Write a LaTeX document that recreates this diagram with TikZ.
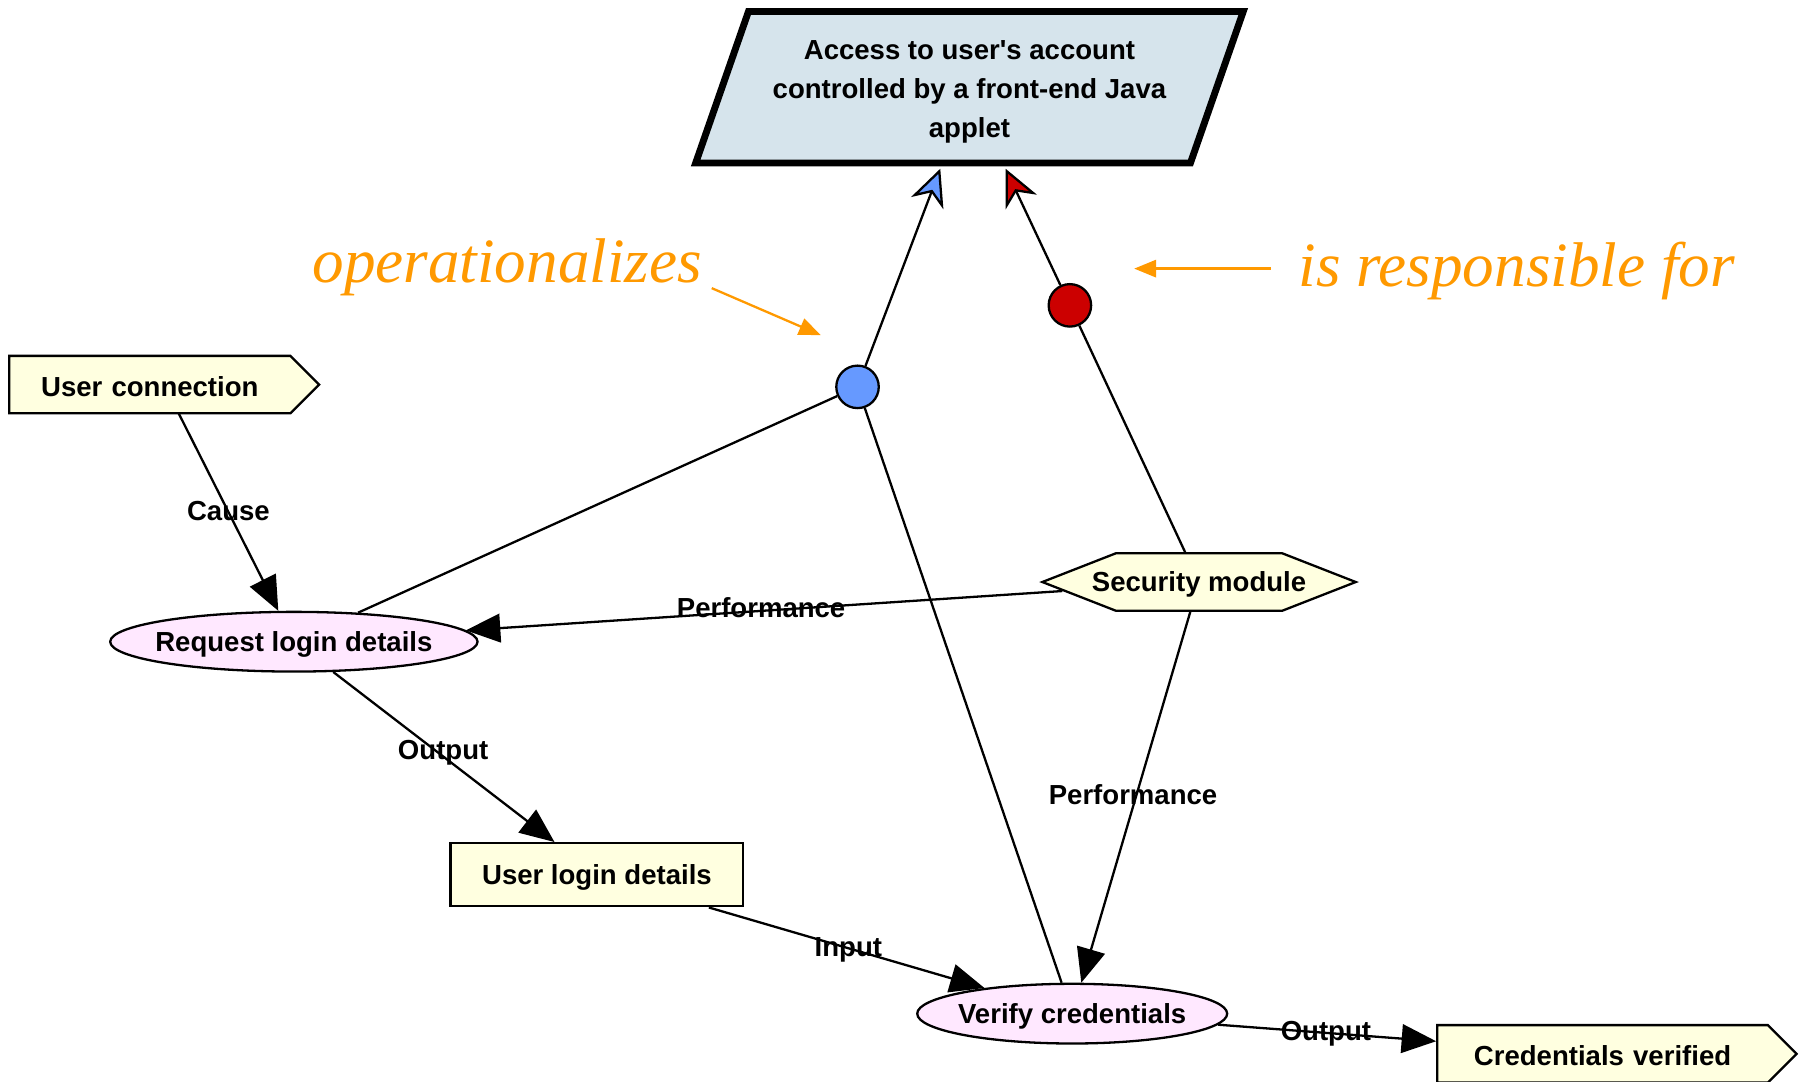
\documentclass[tikz,border=0pt]{standalone}
\usepackage{fontspec}
\setmainfont{Liberation Sans}
\newfontfamily\annofont{Liberation Serif Italic}
\usetikzlibrary{shapes.geometric,shapes.symbols,arrows.meta}
\pgfdeclarelayer{bg}
\pgfsetlayers{bg,main}
\newcommand\lowertext[1]{\raisebox{-1pt}[\dimexpr\height+1pt\relax][\dimexpr\depth-1pt\relax]{#1}}
\definecolor{goalfill}{HTML}{D6E4EC}
\definecolor{entfill}{HTML}{FFFFE0}
\definecolor{procfill}{HTML}{FFE8FF}
\definecolor{opblue}{HTML}{6699FF}
\definecolor{resred}{HTML}{CC0000}
\definecolor{annorange}{HTML}{FF9900}
\tikzset{
  every node/.style={inner sep=0pt},
  goalbox/.style={rectangle, minimum width=477pt, minimum height=132pt, align=center, outer sep=1pt},
  goalborder/.style={line width=6pt, line join=miter},
  entity/.style={rectangle, draw, line width=2pt, fill=entfill, minimum width=255pt, minimum height=55pt},
  flag/.style={signal, signal to=east, signal pointer angle=90, draw, line width=2pt, fill=entfill, minimum height=50pt},
  hexa/.style={signal, signal to=west and east, signal pointer angle=42.7, draw, line width=2pt, fill=entfill, minimum height=50pt},
  proc/.style={ellipse, draw, line width=2pt, fill=procfill, minimum height=52pt},
  dot/.style={circle, draw, line width=2pt, minimum size=37pt},
  link/.style={line width=2pt},
  flow/.style={line width=2pt, -{Triangle[length=30pt,width=25pt]}},
  oparrow/.style={line width=2pt, -{Stealth[length=32pt,width=30pt,inset=10pt,fill=opblue]}},
  resarrow/.style={line width=2pt, -{Stealth[length=32pt,width=30pt,inset=10pt,fill=resred]}},
  lab/.style={anchor=base},
  annotext/.style={text=annorange, font=\annofont\fontsize{55}{60}\selectfont, anchor=base west},
  annoarrow/.style={draw=annorange, line width=2pt, -{Triangle[length=19pt,width=15pt,fill=annorange]}}
}
\begin{document}
\begin{tikzpicture}[x=1pt,y=-1pt,font=\bfseries\fontsize{24}{34}\selectfont]
\useasboundingbox (0,0) rectangle (1568,942);
% goal
\fill[goalfill] (652,10) -- (1083,10) -- (1037,142) -- (606,142) -- cycle;
\node[goalbox] (goal) at (844.5,80) {Access to user\textquotesingle s account\\controlled by a front-end Java\\applet};
\draw[goalborder] (652,10) -- (1083,10) -- (1037,142) -- (606,142) -- cycle;
% nodes
\node[flag, minimum width=270pt, text width=220pt, align=center] (uc) at (130.5,335) {\lowertext{User connection}};
\node[proc, minimum width=320pt] (req) at (256,559) {\makebox[0pt]{\lowertext{Request login details}}};
\node[hexa, minimum width=273pt] (sec) at (1044.5,507) {\makebox[0pt]{\lowertext{Security module}}};
\node[entity] (uld) at (520,762) {\lowertext{User login details}};
\node[proc, minimum width=270pt] (ver) at (934,883) {\makebox[0pt]{\lowertext{Verify credentials}}};
\node[flag, minimum width=313pt, text width=262pt, align=center] (cv) at (1396,918) {\lowertext{Credentials verified}};
\node[dot, fill=opblue] (op) at (747,337) {};
\node[dot, fill=resred] (rs) at (932,266) {};
\coordinate (ucmid) at (143,335);
% links
\draw[oparrow] (op) -- (goal);
\draw[resarrow] (rs) -- (goal);
\draw[link] (op) -- (req);
\draw[link] (op) -- (ver);
\draw[link] (rs) -- (sec);
% flows
\begin{pgfonlayer}{bg}
\draw[flow] (ucmid) -- (req);
\end{pgfonlayer}
\draw[flow] (sec) -- (req);
\draw[flow] (req) -- (uld);
\draw[flow] (sec) -- (ver);
\draw[flow] (uld) -- (ver);
\draw[flow] (ver) -- (cv);
% labels
\node[lab] (l1) at (199,453) {Cause};
\node[lab] (l2) at (663,538) {Performance};
\node[lab] (l3) at (386,662) {Output};
\node[lab] (l4) at (987,701) {Performance};
\node[lab] (l5) at (739,833) {Input};
\node[lab] (l6) at (1155,906) {Output};
% annotations
\node[annotext] (t1) at (272,246) {operationalizes};
\node[annotext] (t2) at (1131,250) {is responsible for};
\coordinate (a1s) at (620,251);
\coordinate (a1e) at (715,292);
\coordinate (a2s) at (1107,234);
\coordinate (a2e) at (988,234);
\draw[annoarrow] (a1s) -- (a1e);
\draw[annoarrow] (a2s) -- (a2e);
\end{tikzpicture}
\end{document}
